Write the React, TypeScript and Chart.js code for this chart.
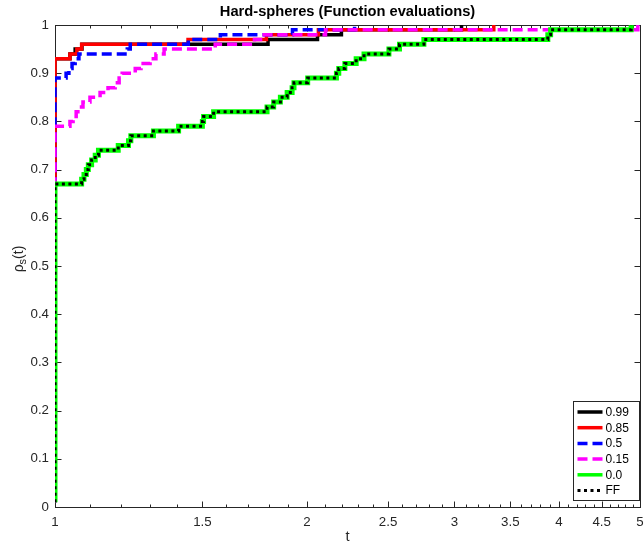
import React, { useEffect, useRef } from "react";
import { Chart, registerables } from "chart.js";

Chart.register(...registerables);

// ---------- data ----------
const seriesLabels = ["0.99", "0.85", "0.5", "0.15", "0.0", "FF"];
const xTickValues = [1, 1.5, 2, 2.5, 3, 3.5, 4, 4.5, 5];
const yTickValues = [0, 0.1, 0.2, 0.3, 0.4, 0.5, 0.6, 0.7, 0.8, 0.9, 1];

const t099 = [1, 1, 1.042, 1.057, 1.077, 1.797, 2.059, 2.199, 3.06];
const rho099 = [0.01, 0.93, 0.94, 0.95, 0.96, 0.97, 0.98, 0.99, 1.0];

const t085 = [1, 1, 1.042, 1.062, 1.076, 1.442, 1.789, 2.064, 3.344];
const rho085 = [0.01, 0.93, 0.94, 0.95, 0.96, 0.97, 0.98, 0.99, 1.0];

const t05 = [1, 1, 1.031, 1.039, 1.048, 1.057, 1.068, 1.22, 1.23, 1.443, 1.576, 1.922, 2.28];
const rho05 = [0.01, 0.89, 0.9, 0.91, 0.92, 0.93, 0.94, 0.95, 0.96, 0.97, 0.98, 0.99, 1.0];

const t015 = [1, 1, 1.042, 1.051, 1.06, 1.065, 1.08, 1.101, 1.132, 1.157, 1.18, 1.193, 1.203, 1.247, 1.267, 1.299, 1.32, 1.35, 1.554, 1.731, 1.769, 2.105, 4.97];
const rho015 = [0.01, 0.79, 0.8, 0.81, 0.82, 0.83, 0.84, 0.85, 0.86, 0.87, 0.88, 0.89, 0.9, 0.91, 0.92, 0.93, 0.94, 0.95, 0.96, 0.97, 0.98, 0.99, 1.0];

const t00 = [1, 1, 1.076, 1.083, 1.09, 1.096, 1.106, 1.117, 1.127, 1.19, 1.224, 1.232, 1.311, 1.405, 1.5, 1.505, 1.547, 1.792, 1.825, 1.859, 1.894, 1.92, 1.93, 2.004, 2.169, 2.183, 2.22, 2.29, 2.34, 2.506, 2.58, 2.759, 3.88, 3.91, 4.88];
const rho00 = [0.01, 0.67, 0.68, 0.69, 0.7, 0.71, 0.72, 0.73, 0.74, 0.75, 0.76, 0.77, 0.78, 0.79, 0.8, 0.81, 0.82, 0.83, 0.84, 0.85, 0.86, 0.87, 0.88, 0.89, 0.9, 0.91, 0.92, 0.93, 0.94, 0.95, 0.96, 0.97, 0.98, 0.99, 1.0];

const tFF = [1, 1, 1.076, 1.083, 1.09, 1.096, 1.106, 1.117, 1.127, 1.19, 1.224, 1.232, 1.311, 1.405, 1.5, 1.505, 1.547, 1.792, 1.825, 1.859, 1.894, 1.92, 1.93, 2.004, 2.169, 2.183, 2.22, 2.29, 2.34, 2.506, 2.58, 2.759, 3.88, 3.91, 4.88];
const rhoFF = [0.01, 0.67, 0.68, 0.69, 0.7, 0.71, 0.72, 0.73, 0.74, 0.75, 0.76, 0.77, 0.78, 0.79, 0.8, 0.81, 0.82, 0.83, 0.84, 0.85, 0.86, 0.87, 0.88, 0.89, 0.9, 0.91, 0.92, 0.93, 0.94, 0.95, 0.96, 0.97, 0.98, 0.99, 1.0];

const titleText = "Hard-spheres (Function evaluations)";
const xTitle = "t";

// ---------- styling ----------
const FONT = "'Liberation Sans', Arial, Helvetica, sans-serif";
const AXIS_COLOR = "#262626";

const styles = [
  { color: "#000000", width: 3.5, dash: [] as number[], order: 5 },
  { color: "#ff0000", width: 3.5, dash: [] as number[], order: 4 },
  { color: "#0000ff", width: 3.5, dash: [10, 5], order: 3 },
  { color: "#ff00ff", width: 3.5, dash: [10, 5], order: 2 },
  { color: "#00ff00", width: 5, dash: [] as number[], order: 1 },
  { color: "#000000", width: 3, dash: [3, 3.5], order: 0 },
];

const seriesT = [t099, t085, t05, t015, t00, tFF];
const seriesRho = [rho099, rho085, rho05, rho015, rho00, rhoFF];

const decorPlugin = {
  id: "decor",
  beforeDatasetsDraw(chart: any) {
    const { ctx, chartArea: a, scales } = chart;
    const xs = scales.x;
    const ys = scales.y;
    ctx.save();
    ctx.strokeStyle = AXIS_COLOR;
    ctx.lineWidth = 1;
    ctx.setLineDash([]);
    const L = Math.round(a.left) + 0.5;
    const R = Math.round(a.right) + 0.5;
    const T = Math.round(a.top) + 0.5;
    const B = Math.round(a.bottom) + 0.5;
    ctx.strokeRect(L, T, R - L, B - T);
    ctx.beginPath();
    yTickValues.forEach((v) => {
      const y = Math.round(ys.getPixelForValue(v)) + 0.5;
      ctx.moveTo(L, y);
      ctx.lineTo(L + 6, y);
      ctx.moveTo(R, y);
      ctx.lineTo(R - 6, y);
    });
    xTickValues.forEach((v) => {
      const x = Math.round(xs.getPixelForValue(v)) + 0.5;
      ctx.moveTo(x, B);
      ctx.lineTo(x, B - 6);
      ctx.moveTo(x, T);
      ctx.lineTo(x, T + 6);
    });
    for (let k = 11; k < 50; k++) {
      if (k % 5 === 0) continue;
      const x = Math.round(xs.getPixelForValue(k / 10)) + 0.5;
      ctx.moveTo(x, B);
      ctx.lineTo(x, B - 3);
      ctx.moveTo(x, T);
      ctx.lineTo(x, T + 3);
    }
    ctx.stroke();
    ctx.restore();
  },
  afterDraw(chart: any) {
    const { ctx, chartArea: a } = chart;
    ctx.save();
    ctx.fillStyle = "#000";
    ctx.font = `bold 14.7px ${FONT}`;
    ctx.textAlign = "center";
    ctx.textBaseline = "middle";
    ctx.fillText(titleText, (a.left + a.right) / 2, 12);

    // y label: rho_s(t)
    const cx = 18;
    const cy = 259;
    ctx.translate(cx, cy);
    ctx.rotate(-Math.PI / 2);
    ctx.fillStyle = AXIS_COLOR;
    ctx.textAlign = "left";
    ctx.textBaseline = "alphabetic";
    const big = `14px ${FONT}`;
    const small = `11px ${FONT}`;
    ctx.font = big;
    const w1 = ctx.measureText("ρ").width;
    const w3 = ctx.measureText("(t)").width;
    ctx.font = small;
    const w2 = ctx.measureText("s").width;
    const total = w1 + w2 + w3;
    let px = -total / 2;
    const base = 4.5;
    ctx.font = big;
    ctx.fillText("ρ", px, base);
    px += w1;
    ctx.font = small;
    ctx.fillText("s", px, base + 3);
    px += w2;
    ctx.font = big;
    ctx.fillText("(t)", px, base);
    ctx.restore();

    // legend
    ctx.save();
    const right = Math.round(a.right) - 0.5;
    const bottom = Math.round(a.bottom) - 6.5;
    const left = right - 66;
    const top = bottom - 99;
    ctx.fillStyle = "#fff";
    ctx.fillRect(left, top, right - left, bottom - top);
    ctx.strokeStyle = AXIS_COLOR;
    ctx.lineWidth = 1;
    ctx.strokeRect(left, top, right - left, bottom - top);
    ctx.font = `12px ${FONT}`;
    ctx.textAlign = "left";
    ctx.textBaseline = "middle";
    chart.data.datasets.forEach((ds: any, i: number) => {
      const y = top + 10.5 + i * 15.7;
      ctx.beginPath();
      ctx.strokeStyle = ds.borderColor;
      ctx.lineWidth = Math.min(ds.borderWidth, 3.5);
      ctx.setLineDash(ds.borderDash || []);
      ctx.lineCap = "butt";
      ctx.moveTo(left + 4, y);
      ctx.lineTo(left + 29, y);
      ctx.stroke();
      ctx.setLineDash([]);
      ctx.fillStyle = "#000";
      ctx.fillText(ds.label, left + 32, y + 0.5);
    });
    ctx.restore();
  },
};

export default function App() {
  const ref = useRef<HTMLCanvasElement>(null);
  useEffect(() => {
    document.body.style.margin = "0";
    const canvas = ref.current;
    if (!canvas) return;
    const datasets = seriesLabels.map((label, i) => ({
      label,
      data: seriesT[i].map((x, j) => ({ x, y: seriesRho[i][j] })),
      borderColor: styles[i].color,
      backgroundColor: styles[i].color,
      borderWidth: styles[i].width,
      borderDash: styles[i].dash,
      order: styles[i].order,
      stepped: true,
      pointRadius: 0,
      fill: false,
      tension: 0,
      borderCapStyle: "butt",
      borderJoinStyle: "miter",
    }));
    const chart = new Chart(canvas, {
      type: "line",
      data: { datasets } as any,
      options: {
        animation: false,
        responsive: false,
        devicePixelRatio: 1,
        events: [],
        layout: { padding: { top: 25, right: 4, left: 0, bottom: 0 } },
        plugins: {
          legend: { display: false },
          title: { display: false },
          tooltip: { enabled: false },
        },
        scales: {
          x: {
            type: "logarithmic",
            min: 1,
            max: 5,
            afterBuildTicks: (s: any) => {
              s.ticks = xTickValues.map((value) => ({ value }));
            },
            afterFit: (s: any) => {
              s.height = 37;
              s.paddingLeft = 0;
              s.paddingRight = 0;
            },
            grid: { display: false, drawTicks: false },
            border: { display: false },
            ticks: {
              autoSkip: false,
              maxRotation: 0,
              minRotation: 0,
              padding: 7,
              color: AXIS_COLOR,
              font: { family: FONT, size: 13.3 },
              callback: (v: any) => String(v),
            },
            title: {
              display: true,
              text: xTitle,
              color: AXIS_COLOR,
              font: { family: FONT, size: 14.7 },
              padding: { top: 0, bottom: -2 },
            },
          },
          y: {
            type: "linear",
            min: 0,
            max: 1,
            afterBuildTicks: (s: any) => {
              s.ticks = yTickValues.map((value) => ({ value }));
            },
            afterFit: (s: any) => {
              s.width = 55;
              s.paddingTop = 0;
              s.paddingBottom = 0;
            },
            grid: { display: false, drawTicks: false },
            border: { display: false },
            ticks: {
              padding: 6,
              color: AXIS_COLOR,
              font: { family: FONT, size: 13.3 },
              callback: (v: any) => String(Math.round(v * 10) / 10),
            },
          },
        },
      } as any,
      plugins: [decorPlugin],
    });
    return () => chart.destroy();
  }, []);
  return (
    <div style={{ width: 644, height: 544, position: "relative" }}>
      <canvas ref={ref} width={644} height={544} style={{ display: "block" }} />
    </div>
  );
}
